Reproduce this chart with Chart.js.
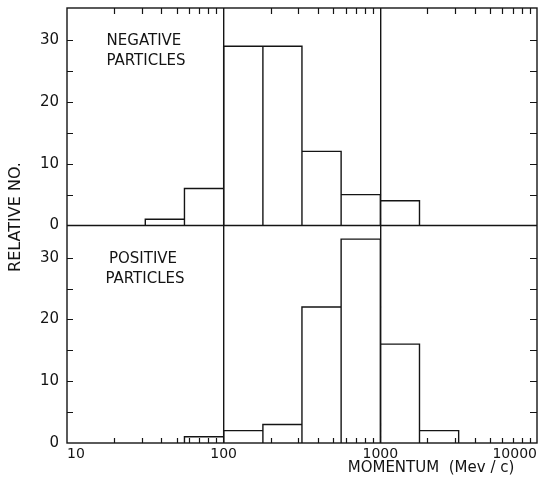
<!DOCTYPE html>
<html>
<head>
<meta charset="utf-8">
<script src="https://cdn.jsdelivr.net/npm/chart.js@4/dist/chart.umd.min.js"></script>
<style>
  html, body { margin: 0; padding: 0; background: #fff; }
  #wrap { width: 550px; height: 487px; }
</style>
</head>
<body>
<div id="wrap"><canvas id="momentumChart" width="550" height="487"></canvas></div>
<script>
// Momentum spectra of negative / positive particles (quarter-decade bins)
const binEdges = [31.6, 56.2, 100, 178, 316, 562, 1000, 1778, 3162];
const negativeCounts = [1, 6, 29, 29, 12, 5, 4, 0];
const positiveCounts = [0, 1, 2, 3, 22, 33, 16, 2];
const xTickValues = [10, 100, 1000, 10000];
const yTickValues = [0, 10, 20, 30];
const yMinorValues = [5, 10, 15, 20, 25, 30];
const panelMax = 35.2;

const ink = '#141414';
const font = "'DejaVu Sans', sans-serif";

// outline of each bar: baseline -> up -> across -> down
function histogramPath(counts) {
    const pts = [];
    counts.forEach((c, i) => {
        if (!c) return;
        const lo = binEdges[i], hi = binEdges[i + 1];
        pts.push({x: lo, y: 0}, {x: lo, y: c}, {x: hi, y: c}, {x: hi, y: 0});
    });
    return pts;
}

// minor log ticks 20..90, 200..900, 2000..9000
const xMinor = [];
[10, 100, 1000].forEach(d => {
    for (let m = 2; m <= 9; m++) xMinor.push(d * m);
});

const framePlugin = {
    id: 'frame',
    afterDatasetsDraw(chart) {
        const {ctx, chartArea: a, scales} = chart;
        const x = scales.x, yTop = scales.yTop, yBot = scales.yBot;
        ctx.save();
        ctx.strokeStyle = ink;
        ctx.lineWidth = 1.4;
        ctx.strokeRect(a.left, a.top, a.width, a.height);

        // divider between panels
        const mid = yTop.getPixelForValue(0);
        ctx.beginPath();
        ctx.moveTo(a.left, mid);
        ctx.lineTo(a.right, mid);
        ctx.stroke();

        // inward x ticks on top edge and bottom edge
        ctx.lineWidth = 1.2;
        ctx.beginPath();
        xMinor.forEach(v => {
            const px = Math.round(x.getPixelForValue(v)) + 0.5;
            ctx.moveTo(px, a.top);
            ctx.lineTo(px, a.top + 6);
            ctx.moveTo(px, a.bottom);
            ctx.lineTo(px, a.bottom - 5);
        });
        // inward y ticks on both sides of each panel
        [yTop, yBot].forEach(s => {
            yMinorValues.forEach(v => {
                const py = Math.round(s.getPixelForValue(v)) + 0.5;
                ctx.moveTo(a.left, py);
                ctx.lineTo(a.left + 6, py);
                ctx.moveTo(a.right, py);
                ctx.lineTo(a.right - 7, py);
            });
        });
        ctx.stroke();

        // panel captions
        ctx.fillStyle = ink;
        ctx.font = '15px ' + font;
        ctx.textAlign = 'center';
        ctx.textBaseline = 'middle';
        const cx = x.getPixelForValue(31);
        ctx.fillText('NEGATIVE', cx, yTop.getPixelForValue(29.9));
        ctx.fillText('PARTICLES', cx + 2, yTop.getPixelForValue(26.6));
        ctx.fillText('POSITIVE', cx - 1, yBot.getPixelForValue(29.7));
        ctx.fillText('PARTICLES', cx + 1, yBot.getPixelForValue(26.6));

        // axis titles
        ctx.fillText('MOMENTUM  (Mev / c)', a.right - 106, 468);
        ctx.font = '16px ' + font;
        ctx.translate(16, 217);
        ctx.rotate(-Math.PI / 2);
        ctx.fillText('RELATIVE NO.', 0, 0);
        ctx.restore();
    }
};

function yAxis(weight) {
    return {
        type: 'linear',
        position: 'left',
        stack: 'panels',
        stackWeight: 1,
        weight: weight,
        min: 0,
        max: panelMax,
        afterBuildTicks: s => { s.ticks = yTickValues.map(v => ({value: v})); },
        afterFit: s => {
            s.width = 52;
            s.paddingTop = 0;
            s.paddingBottom = 0;
        },
        grid: { display: false, drawTicks: false },
        border: { display: false },
        ticks: {
            color: ink,
            padding: 8,
            font: { family: font, size: 15 },
            callback: v => String(v)
        }
    };
}

new Chart(document.getElementById('momentumChart'), {
    type: 'scatter',
    data: {
        datasets: [
            {
                label: 'Negative particles',
                data: histogramPath(negativeCounts),
                yAxisID: 'yTop'
            },
            {
                label: 'Positive particles',
                data: histogramPath(positiveCounts),
                yAxisID: 'yBot'
            }
        ].map(d => Object.assign(d, {
            showLine: true,
            borderColor: ink,
            borderWidth: 1.4,
            pointRadius: 0,
            fill: false,
            tension: 0
        }))
    },
    options: {
        responsive: false,
        animation: false,
        layout: { padding: { left: 15, right: 13, top: 8, bottom: 14 } },
        plugins: {
            legend: { display: false },
            tooltip: { enabled: false }
        },
        scales: {
            x: {
                type: 'logarithmic',
                position: 'bottom',
                min: 10,
                max: 10000,
                afterBuildTicks: s => { s.ticks = xTickValues.map(v => ({value: v})); },
                afterFit: s => {
                    s.height = 30;
                    s.paddingLeft = 0;
                    s.paddingRight = 0;
                },
                grid: {
                    drawTicks: false,
                    lineWidth: 1.4,
                    color: c => (c.tick && (c.tick.value === 100 || c.tick.value === 1000)) ? ink : 'rgba(0,0,0,0)'
                },
                border: { display: false },
                ticks: {
                    color: ink,
                    padding: 3,
                    align: 'inner',
                    autoSkip: false,
                    maxRotation: 0,
                    font: { family: font, size: 14 },
                    callback: v => String(v)
                }
            },
            yBot: yAxis(1),
            yTop: yAxis(2)
        }
    },
    plugins: [framePlugin]
});
</script>
</body>
</html>
